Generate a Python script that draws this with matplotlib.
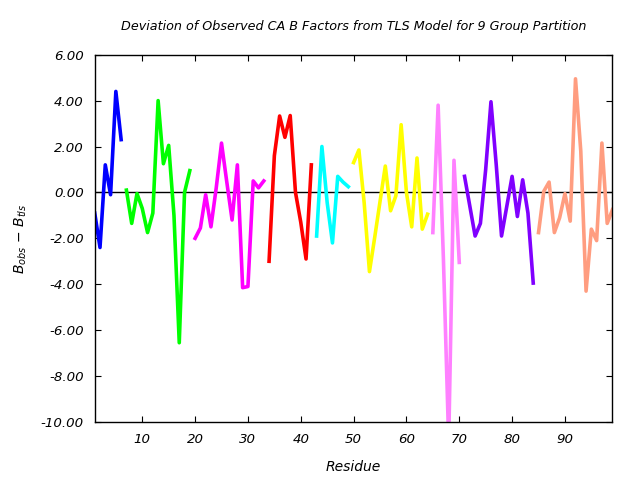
import numpy as np
import matplotlib.pyplot as plt

plt.rcParams["font.family"] = ["DejaVu Sans"]
plt.rcParams["axes.unicode_minus"] = False

# first residue of each TLS group and the deviation B_obs - B_tls per residue
group_start = [1, 7, 20, 34, 43, 50, 65, 71, 85]
group_colors = ["#0000ff", "#00ff00", "#ff00ff", "#ff0000", "#00ffff",
                "#ffff00", "#ff80ff", "#8000ff", "#ff9d80"]

g1 = [-0.9, -2.4, 1.2, -0.1, 4.4, 2.3]
g2 = [0.1, -1.35, -0.05, -0.7, -1.75, -0.9, 4.0, 1.25, 2.05, -1.0, -6.55, 0.0, 0.95]
g3 = [-2.0, -1.55, -0.1, -1.5, 0.2, 2.15, 0.45, -1.2, 1.2, -4.15, -4.1, 0.5, 0.2, 0.5]
g4 = [-3.0, 1.6, 3.33, 2.4, 3.35, 0.0, -1.3, -2.9, 1.2]
g5 = [-1.9, 2.0, -0.45, -2.2, 0.7, 0.45, 0.25]
g6 = [1.3, 1.85, -0.45, -3.45, -1.95, -0.4, 1.15, -0.8, -0.15, 2.95, 0.0, -1.5,
      1.5, -1.6, -0.95]
g7 = [-1.75, 3.8, -2.9, -10.9, 1.4, -3.05]
g8 = [0.7, -0.6, -1.9, -1.35, 1.0, 3.95, 1.2, -1.9, -0.6, 0.7, -1.05, 0.55,
      -0.9, -3.95]
g9 = [-1.75, 0.05, 0.45, -1.75, -1.1, -0.05, -1.25, 4.95, 1.8, -4.3, -1.6,
      -2.1, 2.15, -1.35, -0.75]
groups = [g1, g2, g3, g4, g5, g6, g7, g8, g9]

fig, ax = plt.subplots(figsize=(6.4, 4.8), dpi=100)
fig.subplots_adjust(left=0.148, right=0.957, bottom=0.121, top=0.886)

ax.axhline(0, color="black", lw=1.0, zorder=1)
for start, vals, col in zip(group_start, groups, group_colors):
    res = np.arange(start, start + len(vals))
    ax.plot(res, vals, color=col, lw=2.6, zorder=2)

ax.set_xlim(1, 99)
ax.set_ylim(-10, 6)
ax.set_xticks(np.arange(10, 100, 10))
ax.set_yticks(np.arange(-10, 7, 2))
ax.yaxis.set_major_formatter(plt.FormatStrFormatter("%.2f"))
ax.tick_params(direction="in", top=True, right=True, length=4, width=0.8,
               labelsize=9.6, pad=8)
for lbl in ax.get_xticklabels() + ax.get_yticklabels():
    lbl.set_fontstyle("italic")
for sp in ax.spines.values():
    sp.set_linewidth(1.0)

ax.set_title("Deviation of Observed CA B Factors from TLS Model for 9 Group Partition",
             fontsize=9.2, style="italic", pad=18)
ax.set_xlabel("Residue", fontsize=10, style="italic", labelpad=10)
ax.set_ylabel(r"$B_{obs}$ $-$ $B_{tls}$", fontsize=10, labelpad=8)

plt.savefig("out.png", dpi=100, facecolor="white")
plt.close()
